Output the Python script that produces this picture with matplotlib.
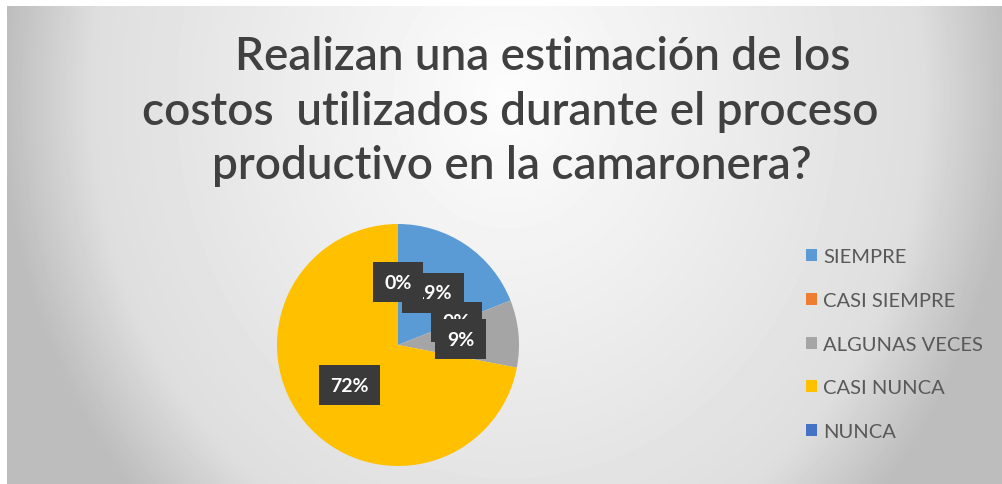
import numpy as np
import matplotlib.pyplot as plt

categories = ['SIEMPRE', 'CASI SIEMPRE', 'ALGUNAS VECES', 'CASI NUNCA', 'NUNCA']
percentages = [19, 0, 9, 72, 0]
colors = ['#5B9BD5', '#ED7D31', '#A5A5A5', '#FFC000', '#4472C4']
title_lines = ['Realizan una estimación de los',
               'costos  utilizados durante el proceso',
               'productivo en la camaronera?']

W, H = 1002, 485
fig = plt.figure(figsize=(W / 100, H / 100), dpi=100)
fig.patch.set_facecolor('white')

# soft gray background, lighter in the middle and darker at the sides
bg = fig.add_axes([7 / W, 0, 1 - 7 / W, 1 - 7 / H])
yy, xx = np.mgrid[0:H - 7, 0:W - 7]
d = np.sqrt(((xx - 500) / 520.0) ** 2 + ((yy - 90) / 600.0) ** 2)
shade = 0.99 - 0.15 * d - 0.6 * np.clip(d - 0.8, 0, None)
shade = np.clip(shade, 0.74, 1.0)
bg.imshow(shade, cmap='gray', vmin=0, vmax=1, aspect='auto', interpolation='bilinear')
bg.axis('off')

title_pos = [(543, 57), (510, 112), (512, 166)]
for line, (x, y) in zip(title_lines, title_pos):
    fig.text(x / W, 1 - y / H, line, ha='center', va='center',
             fontsize=33, color='#404040', family='Lato', fontweight='semibold')

# pie
cx, cy, r = 398, 346, 121
ax = fig.add_axes([(cx - r) / W, 1 - (cy + r) / H, 2 * r / W, 2 * r / H])
wedges, texts, autotexts = ax.pie(percentages, colors=colors, startangle=90, counterclock=False,
                                  autopct='%1.0f%%', pctdistance=0.52,
                                  wedgeprops=dict(linewidth=0))
for t in autotexts:
    t.set_color('white')
    t.set_fontsize(14)
    t.set_fontweight('bold')
    t.set_family('Lato')
    t.set_bbox(dict(boxstyle='square,pad=0.6', fc='#3a3a3a', ec='none'))
ax.set_xlim(-1, 1)
ax.set_ylim(-1, 1)
ax.set_aspect('auto')

leg = fig.legend(wedges, categories, loc='upper left', bbox_to_anchor=(788 / W, 1 - 231 / H),
                 frameon=False, handlelength=0.55, handleheight=0.55, handletextpad=0.3,
                 labelspacing=1.33, prop=dict(family='Lato', size=14.5))
for t in leg.get_texts():
    t.set_color('#595959')

fig.savefig('out.png', dpi=100)
